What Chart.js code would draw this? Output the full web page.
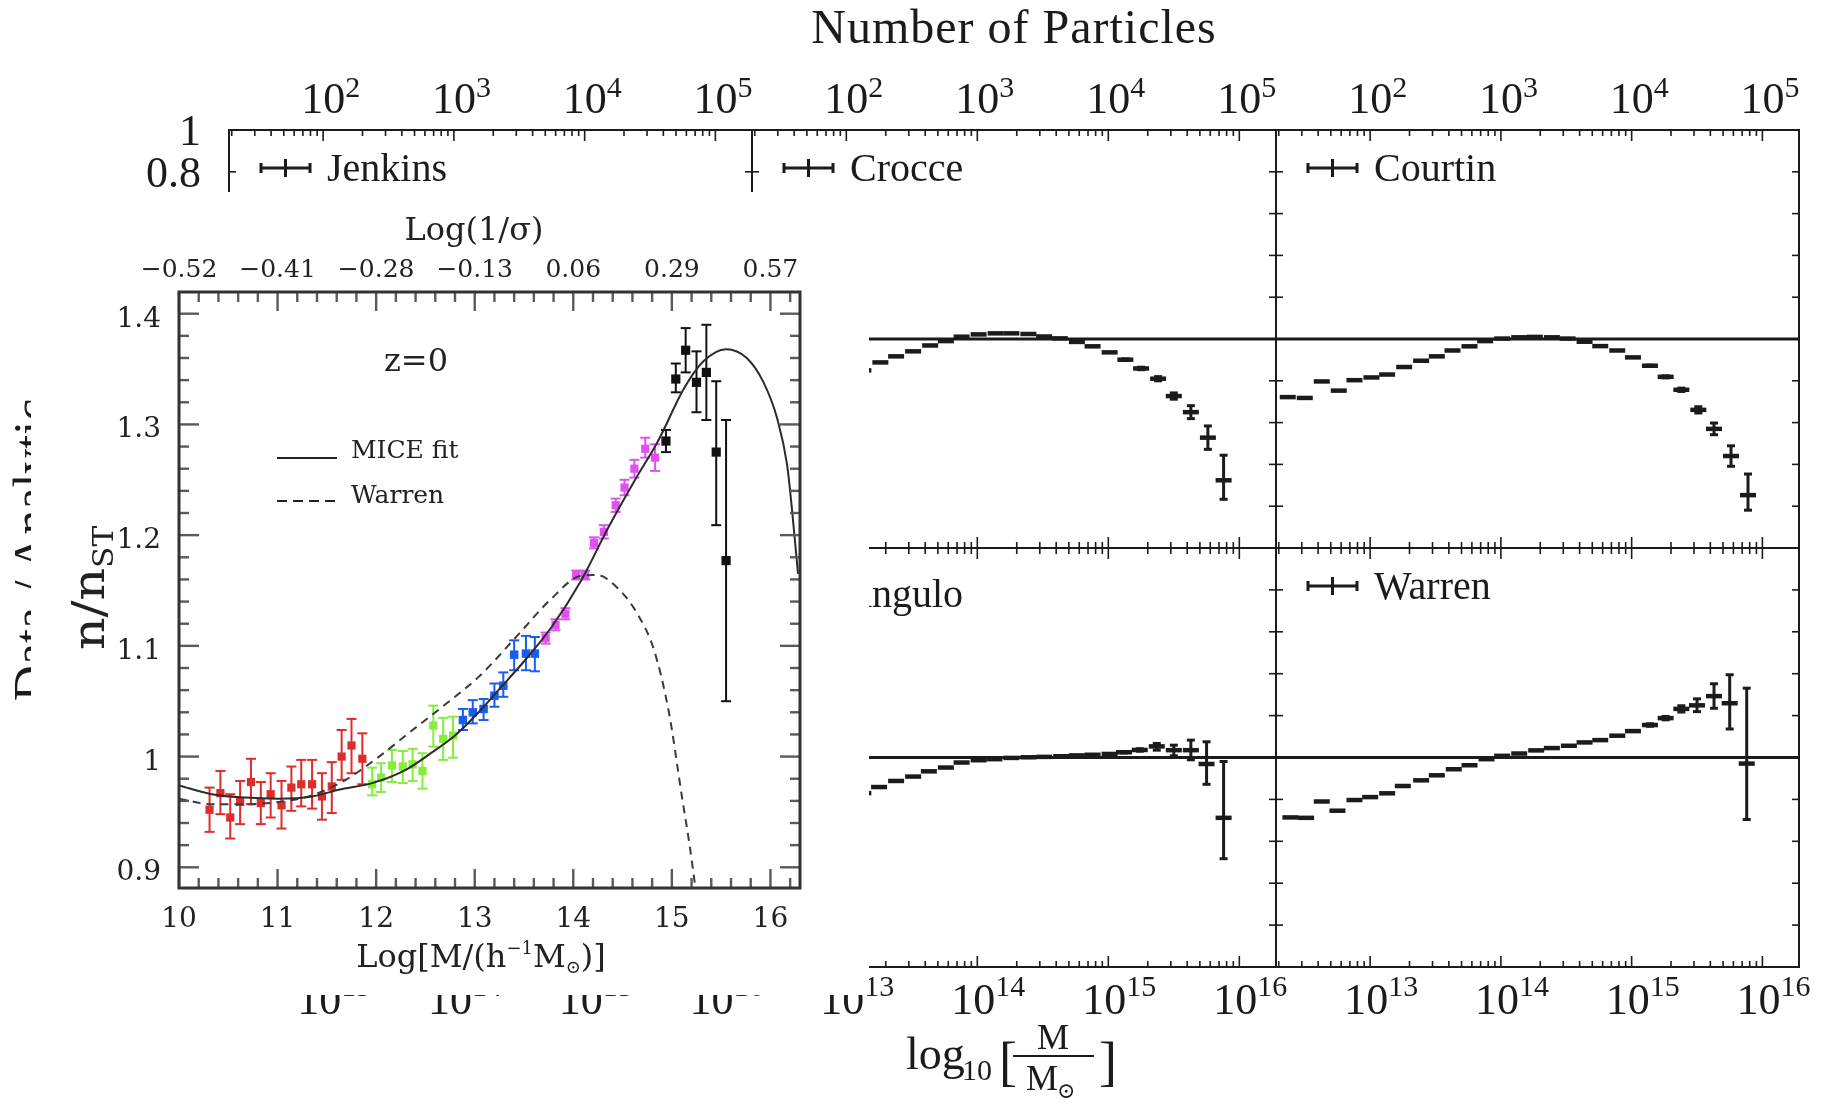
<!DOCTYPE html>
<html>
<head>
<meta charset="utf-8">
<script src="https://cdn.jsdelivr.net/npm/chart.js@4.4.1/dist/chart.umd.min.js"></script>
<style>
  html, body { margin: 0; padding: 0; background: #fff; }
  #fig { position: relative; width: 1834px; height: 1103px; overflow: hidden; background: #fff;
         font-family: "Liberation Serif", "Times New Roman", serif; color: #1b1b1b; }
  #fig canvas { position: absolute; }
  .t { position: absolute; white-space: nowrap; line-height: 1; }
</style>
</head>
<body>
<div id="fig"></div>
<script>
"use strict";

// ---- background figure: relative deviation of each fit, vs halo mass ----
const LOGM_RANGE = [12.28, 16.28];
const RATIO_RANGE = [-1, 1];
const PARTICLE_LOGMASS = 11; // log10 particle mass, ties the top axis to the bottom one
const massExps = [13, 14, 15, 16];
const particleExps = [2, 3, 4, 5];
const ratioTickVals = [1, 0.8, 0.6, 0.4, 0.2, 0, -0.2, -0.4, -0.6, -0.8];
const ratioTickLabels = ["1", "0.8", "0.6", "0.4", "0.2", "0", "\u22120.2", "\u22120.4", "\u22120.6", "\u22120.8"];
const unityX = [12.28, 16.28];
const unityY = [0, 0];

const crocceM = [13.13, 13.26, 13.38, 13.51, 13.64, 13.76, 13.88, 14.01, 14.14, 14.26, 14.39, 14.51, 14.63, 14.76, 14.88, 15.01, 15.13, 15.25, 15.38, 15.5, 15.63, 15.76, 15.88];
const crocceV = [-0.15, -0.112, -0.083, -0.059, -0.031, -0.01, 0.011, 0.022, 0.027, 0.027, 0.024, 0.012, 0.003, -0.014, -0.035, -0.064, -0.099, -0.141, -0.19, -0.273, -0.35, -0.472, -0.676];
const crocceErr = [0, 0, 0, 0, 0, 0, 0, 0, 0, 0, 0, 0, 0, 0, 0, 0, 0.004, 0.006, 0.01, 0.015, 0.031, 0.056, [0.091, 0.12]];

const courtinM = [12.37, 12.5, 12.63, 12.76, 12.88, 13.01, 13.13, 13.26, 13.39, 13.51, 13.63, 13.76, 13.88, 14.01, 14.14, 14.26, 14.39, 14.51, 14.64, 14.76, 14.89, 15.01, 15.14, 15.26, 15.38, 15.51, 15.63, 15.76, 15.89];
const courtinV = [-0.278, -0.282, -0.203, -0.247, -0.197, -0.184, -0.17, -0.134, -0.104, -0.083, -0.055, -0.035, -0.01, 0.002, 0.008, 0.01, 0.008, 0.002, -0.013, -0.034, -0.055, -0.088, -0.128, -0.181, -0.243, -0.339, -0.43, -0.56, -0.747];
const courtinErr = [0, 0, 0, 0, 0, 0, 0, 0, 0, 0, 0, 0, 0, 0, 0, 0, 0, 0, 0, 0, 0, 0, 0.003, 0.005, 0.008, 0.015, 0.028, 0.049, [0.072, 0.101]];

const anguloM = [13.13, 13.25, 13.38, 13.51, 13.63, 13.76, 13.88, 14.01, 14.13, 14.26, 14.39, 14.51, 14.64, 14.76, 14.88, 15.01, 15.12, 15.24, 15.37, 15.5, 15.63, 15.75, 15.88];
const anguloV = [-0.17, -0.141, -0.112, -0.091, -0.066, -0.048, -0.024, -0.013, -0.008, -0.002, 0.001, 0.003, 0.006, 0.01, 0.013, 0.017, 0.025, 0.036, 0.053, 0.035, 0.035, -0.031, -0.288];
const anguloErr = [0, 0, 0, 0, 0, 0, 0, 0, 0, 0, 0, 0, 0, 0, 0, 0, 0.003, 0.006, [0.018, 0.014], [0.027, 0.024], [0.046, 0.048], [0.097, 0.106], [0.195, 0.269]];

const warrenM = [12.39, 12.51, 12.63, 12.75, 12.88, 13.0, 13.13, 13.25, 13.39, 13.51, 13.64, 13.76, 13.89, 14.01, 14.14, 14.27, 14.39, 14.52, 14.64, 14.76, 14.89, 15.01, 15.14, 15.26, 15.38, 15.5, 15.63, 15.75, 15.88];
const warrenV = [-0.286, -0.288, -0.21, -0.254, -0.203, -0.189, -0.171, -0.136, -0.109, -0.085, -0.056, -0.037, -0.008, 0.008, 0.019, 0.034, 0.045, 0.056, 0.072, 0.083, 0.104, 0.126, 0.155, 0.188, 0.232, 0.249, 0.293, 0.259, -0.029];
const warrenErr = [0, 0, 0, 0, 0, 0, 0, 0, 0, 0, 0, 0, 0, 0, 0, 0, 0, 0, 0, 0, 0, 0, 0.006, 0.008, 0.015, [0.03, 0.031], [0.058, 0.059], [0.123, 0.136], [0.267, 0.36]];

// ---- inset: MICE n/n_ST at z=0 ----
const INSET_X = [10, 16.3];
const INSET_Y = [0.8813, 1.4196];
const insetXTicks = [10, 11, 12, 13, 14, 15, 16];
const insetXLabels = ["10", "11", "12", "13", "14", "15", "16"];
const sigmaLabels = ["\u22120.52", "\u22120.41", "\u22120.28", "\u22120.13", "0.06", "0.29", "0.57"];
const insetYTicks = [0.9, 1, 1.1, 1.2, 1.3, 1.4];
const insetYLabels = ["0.9", "1", "1.1", "1.2", "1.3", "1.4"];

const redM  = [10.31, 10.42, 10.52, 10.62, 10.73, 10.83, 10.93, 11.04, 11.14, 11.24, 11.35, 11.45, 11.55, 11.65, 11.75, 11.86];
const redR  = [0.952, 0.967, 0.945, 0.959, 0.977, 0.958, 0.966, 0.956, 0.972, 0.975, 0.975, 0.964, 0.973, 1.0, 1.01, 0.998];
const redHi = [0.972, 0.987, 0.966, 0.978, 0.998, 0.977, 0.985, 0.978, 0.991, 0.997, 0.997, 0.985, 0.995, 1.024, 1.034, 1.021];
const redLo = [0.932, 0.948, 0.926, 0.939, 0.957, 0.939, 0.945, 0.935, 0.951, 0.955, 0.953, 0.943, 0.949, 0.979, 0.985, 0.975];

const greenM  = [11.96, 12.05, 12.16, 12.27, 12.37, 12.47, 12.58, 12.68, 12.78];
const greenR  = [0.975, 0.981, 0.992, 0.991, 0.993, 0.987, 1.028, 1.016, 1.019];
const greenHi = [0.99, 0.994, 1.006, 1.005, 1.007, 1.003, 1.046, 1.035, 1.036];
const greenLo = [0.965, 0.968, 0.977, 0.976, 0.978, 0.971, 1.009, 0.997, 0.999];

const blueM  = [12.88, 12.98, 13.09, 13.2, 13.29, 13.4, 13.52, 13.61];
const blueR  = [1.033, 1.04, 1.043, 1.055, 1.064, 1.092, 1.093, 1.093];
const blueHi = [1.043, 1.051, 1.052, 1.066, 1.076, 1.105, 1.109, 1.108];
const blueLo = [1.024, 1.03, 1.033, 1.045, 1.054, 1.078, 1.078, 1.077];

const magM  = [13.72, 13.82, 13.92, 14.03, 14.12, 14.21, 14.31, 14.43, 14.52, 14.62, 14.73, 14.83];
const magR  = [1.107, 1.119, 1.129, 1.164, 1.164, 1.193, 1.203, 1.227, 1.243, 1.26, 1.278, 1.27];
const magHi = [1.112, 1.124, 1.134, 1.168, 1.168, 1.198, 1.209, 1.233, 1.25, 1.268, 1.288, 1.282];
const magLo = [1.102, 1.114, 1.124, 1.16, 1.16, 1.188, 1.197, 1.221, 1.236, 1.252, 1.27, 1.258];

const blkM  = [14.94, 15.04, 15.14, 15.25, 15.35, 15.45, 15.55];
const blkR  = [1.285, 1.341, 1.367, 1.338, 1.347, 1.275, 1.177];
const blkHi = [1.295, 1.355, 1.387, 1.366, 1.39, 1.339, 1.304];
const blkLo = [1.275, 1.329, 1.347, 1.311, 1.304, 1.209, 1.05];

const miceM = [10.0, 10.33, 10.67, 11.0, 11.35, 11.62, 11.96, 12.3, 12.57, 12.8, 13.04, 13.24, 13.51, 13.78, 14.08, 14.35, 14.62, 14.86, 15.12, 15.32, 15.55, 15.76, 15.93, 16.07, 16.17, 16.22, 16.28];
const miceR = [0.974, 0.966, 0.963, 0.962, 0.964, 0.97, 0.976, 0.988, 1.004, 1.019, 1.04, 1.06, 1.087, 1.117, 1.159, 1.206, 1.249, 1.285, 1.332, 1.357, 1.368, 1.36, 1.338, 1.305, 1.263, 1.222, 1.165];

const warM = [10.0, 10.33, 10.67, 11.01, 11.35, 11.69, 12.03, 12.37, 12.7, 13.04, 13.43, 13.76, 14.07, 14.24, 14.44, 14.65, 14.82, 14.97, 15.1, 15.18, 15.24];
const warR = [0.962, 0.957, 0.957, 0.959, 0.965, 0.979, 1.0, 1.024, 1.047, 1.072, 1.109, 1.141, 1.163, 1.164, 1.153, 1.129, 1.096, 1.04, 0.965, 0.92, 0.881];

// ---- layout ----
const INK = "#1b1b1b";
const SERIF = '"Liberation Serif", "Times New Roman", serif';
const SM = '"DejaVu Serif", serif';
const panelCols = [229, 752, 1276, 1799];
const panelRows = [130, 548, 967];
const PAD = 90;
const fig = document.getElementById("fig");

const seg = (ctx, x1, y1, x2, y2) => { ctx.beginPath(); ctx.moveTo(x1, y1); ctx.lineTo(x2, y2); ctx.stroke(); };
const pts = (xs, ys) => xs.map((x, i) => ({ x, y: ys[i] }));

function addText(txt, x, base, size, opts = {}) {
  const d = document.createElement("div");
  d.className = "t";
  d.textContent = txt;
  d.style.fontSize = size + "px";
  d.style.left = x + "px";
  d.style.top = base - 0.8375 * size + "px";
  if (opts.font) d.style.fontFamily = opts.font;
  if (opts.ls) d.style.letterSpacing = opts.ls + "px";
  if (opts.center) d.style.transform = "translateX(-50%)";
  fig.appendChild(d);
  return d;
}

// vertical error bars with caps, read from dataset.errLo / dataset.errHi
const errorBars = {
  id: "errorBars",
  beforeDatasetsDraw(chart) {
    const { ctx, scales: { x, y } } = chart;
    chart.data.datasets.forEach((ds) => {
      if (!ds.errLo) return;
      ctx.save();
      ctx.strokeStyle = ds.errColor;
      ctx.lineWidth = ds.errWidth;
      ds.data.forEach((p, i) => {
        const lo = ds.errLo[i], hi = ds.errHi[i];
        if (lo == null || hi - lo < 1e-6) return;
        const px = x.getPixelForValue(p.x), yl = y.getPixelForValue(lo), yh = y.getPixelForValue(hi);
        seg(ctx, px, yl, px, yh);
        seg(ctx, px - ds.cap, yl, px + ds.cap, yl);
        seg(ctx, px - ds.cap, yh, px + ds.cap, yh);
      });
      ctx.restore();
    });
  },
};

function drawPow(ctx, cx, base, exp, rise) {
  ctx.font = `44px ${SERIF}`;
  const w = ctx.measureText("10").width;
  ctx.textAlign = "left";
  ctx.fillText("10", cx - w / 2, base);
  ctx.font = `30px ${SERIF}`;
  ctx.fillText(String(exp), cx + w / 2, base - rise);
}

function panelDecor(p) {
  return {
    id: "panelDecor",
    afterDraw(chart) {
      const { ctx, chartArea: a, scales: { x, y } } = chart;
      ctx.save();
      ctx.strokeStyle = INK;
      ctx.fillStyle = INK;
      ctx.lineWidth = 1.6;
      // log ticks on top and bottom, pointing in
      for (let d = 12; d <= 16; d++) {
        for (let k = 1; k <= 9; k++) {
          const v = d + Math.log10(k);
          if (v < x.min || v > x.max) continue;
          const px = x.getPixelForValue(v), len = k === 1 ? 11 : 6;
          seg(ctx, px, a.top, px, a.top + len);
          seg(ctx, px, a.bottom, px, a.bottom - len);
        }
      }
      ratioTickVals.forEach((v) => {
        if (v <= y.min || v >= y.max) return;
        const py = y.getPixelForValue(v);
        seg(ctx, a.left, py, a.left + 7, py);
        seg(ctx, a.right, py, a.right - 7, py);
      });
      ctx.lineWidth = 2;
      ctx.strokeRect(a.left, a.top, a.right - a.left, a.bottom - a.top);

      ctx.textBaseline = "alphabetic";
      if (p.row === 0) particleExps.forEach((e) => drawPow(ctx, x.getPixelForValue(e + PARTICLE_LOGMASS), a.top - 17, e, 16));
      if (p.row === 1) massExps.forEach((e) => drawPow(ctx, x.getPixelForValue(e) - 4, a.bottom + 47, e, 18));
      if (p.col === 0) {
        ctx.font = `44px ${SERIF}`;
        ctx.textAlign = "right";
        ratioTickVals.forEach((v, i) => ctx.fillText(ratioTickLabels[i], a.left - 28, y.getPixelForValue(v) + 15));
      }
      if (p.name) {
        const tx = a.left + (p.legendDx || 98), ly = a.top + (p.legendDy || 38);
        ctx.lineWidth = 3;
        seg(ctx, tx - 66, ly, tx - 17, ly);
        seg(ctx, tx - 66, ly - 5, tx - 66, ly + 5);
        seg(ctx, tx - 17, ly - 5, tx - 17, ly + 5);
        seg(ctx, tx - 41.5, ly - 9, tx - 41.5, ly + 9);
        ctx.font = `40px ${SERIF}`;
        ctx.textAlign = "left";
        ctx.fillText(p.name, tx, ly + 13);
      }
      ctx.restore();
    },
  };
}

function errRange(v, err) {
  const lo = v.map((c, i) => c - (Array.isArray(err[i]) ? err[i][0] : err[i]));
  const hi = v.map((c, i) => c + (Array.isArray(err[i]) ? err[i][1] : err[i]));
  return { lo, hi };
}

const panels = [
  { name: "Jenkins", col: 0, row: 0, m: [], v: [], err: [] },
  { name: "Crocce", col: 1, row: 0, m: crocceM, v: crocceV, err: crocceErr },
  { name: "Courtin", col: 2, row: 0, m: courtinM, v: courtinV, err: courtinErr },
  { name: "", col: 0, row: 1, m: [], v: [], err: [] },
  { name: "Angulo", col: 1, row: 1, m: anguloM, v: anguloV, err: anguloErr, legendDx: 91, legendDy: 46 },
  { name: "Warren", col: 2, row: 1, m: warrenM, v: warrenV, err: warrenErr },
];

function makePanel(p) {
  const x0 = panelCols[p.col], x1 = panelCols[p.col + 1], y0 = panelRows[p.row], y1 = panelRows[p.row + 1];
  const cv = document.createElement("canvas");
  cv.width = x1 - x0 + 2 * PAD;
  cv.height = y1 - y0 + 2 * PAD;
  cv.style.left = x0 - PAD + "px";
  cv.style.top = y0 - PAD + "px";
  fig.appendChild(cv);
  const { lo, hi } = errRange(p.v, p.err);
  new Chart(cv, {
    type: "scatter",
    data: {
      datasets: [
        { data: pts(unityX, unityY), showLine: true, borderColor: INK, borderWidth: 3.2, pointRadius: 0 },
        {
          data: pts(p.m, p.v),
          pointStyle: "line", pointRadius: 8, pointBorderWidth: 4.5,
          pointBorderColor: INK, pointBackgroundColor: INK,
          errLo: lo, errHi: hi, errColor: INK, errWidth: 3, cap: 4,
        },
      ],
    },
    options: {
      responsive: false, animation: false, devicePixelRatio: 1, events: [],
      layout: { padding: PAD },
      scales: {
        x: { type: "linear", min: LOGM_RANGE[0], max: LOGM_RANGE[1], display: false },
        y: { type: "linear", min: RATIO_RANGE[0], max: RATIO_RANGE[1], display: false },
      },
      plugins: { legend: { display: false }, tooltip: { enabled: false } },
    },
    plugins: [errorBars, panelDecor(p)],
  });
}

// y title of the background figure (mostly hidden by the inset)
const yl = addText("Data / Analytic", 0, 0, 50);
yl.style.left = "31px";
yl.style.top = "550px";
yl.style.transform = "translate(-50%,-50%) rotate(-90deg)";

panels.forEach(makePanel);

addText("Number of Particles", 1014, 43, 48, { center: true, ls: 1 });

// x title: log10[M / M_sun]
addText("log", 906, 1070, 46);
addText("10", 962, 1080, 30);
addText("[", 999, 1080, 54);
addText("M", 1053, 1049, 36, { center: true });
const bar = document.createElement("div");
bar.style.cssText = "position:absolute;left:1013px;top:1055px;width:81px;height:2px;background:#1b1b1b";
fig.appendChild(bar);
addText("M", 1042, 1090, 36, { center: true });
addText("\u2299", 1057, 1098, 22, { font: SM });
addText("]", 1099, 1080, 54);

// ---- inset chart ----
function richText(ctx, parts, x, base, align) {
  let w = 0;
  parts.forEach((s) => { ctx.font = `${s.size}px ${SM}`; w += ctx.measureText(s.t).width; });
  let cx = align === "center" ? x - w / 2 : x;
  ctx.textAlign = "left";
  parts.forEach((s) => {
    ctx.font = `${s.size}px ${SM}`;
    ctx.fillText(s.t, cx, base + (s.dy || 0));
    cx += ctx.measureText(s.t).width;
  });
}

const insetDecor = {
  id: "insetDecor",
  afterDraw(chart) {
    const { ctx, chartArea: a, scales: { x, y } } = chart;
    ctx.save();
    ctx.strokeStyle = "#5a5a5a";
    ctx.lineWidth = 2.4;
    for (let i = 0; i <= 31; i++) {
      const v = INSET_X[0] + i * 0.2;
      if (v > x.max) break;
      const px = x.getPixelForValue(v), len = i % 5 === 0 ? 19 : 10;
      seg(ctx, px, a.top, px, a.top + len);
      seg(ctx, px, a.bottom, px, a.bottom - len);
    }
    for (let i = 0; i <= 25; i++) {
      const v = 0.9 + i * 0.02;
      const py = y.getPixelForValue(v), len = i % 5 === 0 ? 20 : 10;
      seg(ctx, a.left, py, a.left + len, py);
      seg(ctx, a.right, py, a.right - len, py);
    }
    ctx.strokeStyle = "#333";
    ctx.lineWidth = 3;
    ctx.strokeRect(a.left, a.top, a.right - a.left, a.bottom - a.top);

    ctx.fillStyle = "#222";
    ctx.textBaseline = "alphabetic";
    ctx.font = `28px ${SM}`;
    ctx.textAlign = "center";
    insetXTicks.forEach((v, i) => ctx.fillText(insetXLabels[i], x.getPixelForValue(v), a.bottom + 39));
    ctx.font = `25px ${SM}`;
    insetXTicks.forEach((v, i) => ctx.fillText(sigmaLabels[i], x.getPixelForValue(v), a.top - 15));
    ctx.font = `28px ${SM}`;
    ctx.textAlign = "right";
    insetYTicks.forEach((v, i) => ctx.fillText(insetYLabels[i], a.left - 18, y.getPixelForValue(v) + 13));

    ctx.font = `32px ${SM}`;
    ctx.textAlign = "center";
    ctx.fillText("Log(1/\u03c3)", 474 - 31, 240 - 192);
    richText(ctx, [
      { t: "Log[M/(h", size: 32 }, { t: "\u22121", size: 18, dy: -13 },
      { t: "M", size: 32 }, { t: "\u2299", size: 18, dy: 6 }, { t: ")]", size: 32 },
    ], 481 - 31, 967 - 192, "center");

    ctx.save();
    ctx.translate(104 - 31, 588 - 192);
    ctx.rotate(-Math.PI / 2);
    ctx.scale(1.15, 1);
    richText(ctx, [{ t: "n/n", size: 44 }, { t: "ST", size: 27, dy: 9 }], 0, 0, "center");
    ctx.restore();

    ctx.font = `32px ${SM}`;
    ctx.textAlign = "center";
    ctx.fillText("z=0", 416 - 31, 371 - 192);

    ctx.strokeStyle = "#222";
    ctx.lineWidth = 2;
    seg(ctx, 277 - 31, 458 - 192, 337 - 31, 458 - 192);
    ctx.setLineDash([10, 6]);
    seg(ctx, 277 - 31, 501 - 192, 337 - 31, 501 - 192);
    ctx.setLineDash([]);
    ctx.font = `25px ${SM}`;
    ctx.textAlign = "left";
    ctx.fillText("MICE fit", 351 - 31, 458 - 192);
    ctx.fillText("Warren", 351 - 31, 503 - 192);
    ctx.restore();
  },
};

function pointSet(xs, ys, hi, lo, color, r) {
  return {
    data: pts(xs, ys), pointStyle: "rect", pointRadius: r, pointBorderWidth: 0,
    pointBackgroundColor: color, pointBorderColor: color,
    errLo: lo, errHi: hi, errColor: color, errWidth: 2, cap: 5,
  };
}

const insetCv = document.createElement("canvas");
insetCv.width = 838;
insetCv.height = 803;
insetCv.style.left = "31px";
insetCv.style.top = "192px";
insetCv.style.background = "#fff";
fig.appendChild(insetCv);

new Chart(insetCv, {
  type: "scatter",
  data: {
    datasets: [
      { data: pts(miceM, miceR), showLine: true, borderColor: "#2b2b2b", borderWidth: 2, pointRadius: 0, cubicInterpolationMode: "monotone" },
      { data: pts(warM, warR), showLine: true, borderColor: "#3a3a3a", borderWidth: 2, borderDash: [8, 6], pointRadius: 0, cubicInterpolationMode: "monotone" },
      pointSet(redM, redR, redHi, redLo, "#e02b2b", 5.8),
      pointSet(greenM, greenR, greenHi, greenLo, "#84ee3a", 5.8),
      pointSet(blueM, blueR, blueHi, blueLo, "#1a5cf0", 6),
      pointSet(magM, magR, magHi, magLo, "#e050f0", 5.8),
      pointSet(blkM, blkR, blkHi, blkLo, "#111", 6.5),
    ],
  },
  options: {
    responsive: false, animation: false, devicePixelRatio: 1, events: [],
    layout: { padding: { left: 148, top: 100, right: 69, bottom: 107 } },
    scales: {
      x: { type: "linear", min: INSET_X[0], max: INSET_X[1], display: false },
      y: { type: "linear", min: INSET_Y[0], max: INSET_Y[1], display: false },
    },
    plugins: { legend: { display: false }, tooltip: { enabled: false } },
  },
  plugins: [errorBars, insetDecor],
});
</script>
</body>
</html>
